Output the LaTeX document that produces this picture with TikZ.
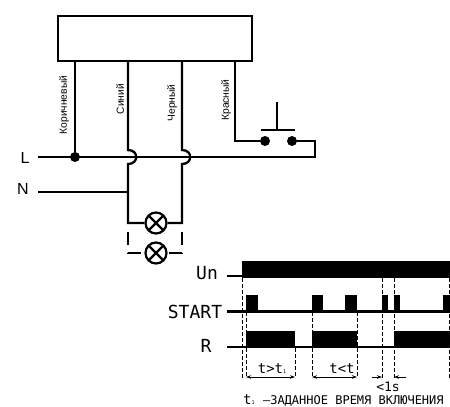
\documentclass[tikz,border=0pt]{standalone}
\usepackage{fontspec}
\setmainfont{Liberation Sans}
\newfontfamily\monofont{DejaVu Sans Mono}
\usetikzlibrary{arrows.meta}
\tikzset{
x=1pt,
y=-1pt,
wire/.style={line width=2.3pt},
dashed wire/.style={line width=2.3pt, dash pattern=on 13pt off 8pt},
guide/.style={line width=0.9pt, dash pattern=on 4pt off 2pt},
span/.style={line width=0.8pt, {Stealth[length=5pt,width=3.5pt]}-{Stealth[length=5pt,width=3.5pt]}},
tip/.style={line width=0.8pt, -{Stealth[length=5pt,width=3.5pt]}},
relay/.style={draw, line width=2.4pt, minimum width=194pt, minimum height=45pt, inner sep=0pt},
contact/.style={circle, fill, minimum size=10pt, inner sep=0pt},
lamp/.style={circle, draw, line width=2.2pt, fill=white, minimum size=21pt, inner sep=0pt,
  path picture={
    \draw[line width=2.2pt] (path picture bounding box.north west) -- (path picture bounding box.south east);
    \draw[line width=2.2pt] (path picture bounding box.north east) -- (path picture bounding box.south west);
  }},
colour/.style={rotate=90, font=\fontsize{10.3}{10}\selectfont, inner sep=0pt},
mains/.style={font=\fontsize{16}{16}\selectfont, inner sep=0pt},
signal/.style={font=\monofont\fontsize{18}{18}\selectfont, inner sep=0pt},
timing/.style={font=\monofont\fontsize{14}{14}\selectfont, inner sep=0pt},
}

\begin{document}
\begin{tikzpicture}
    \useasboundingbox (0,0) rectangle (450,407);

    \node[relay] (relay) at (155,38.5) {};

    \node[colour] (brown) at (64,105) {Коричневый};
    \node[colour] (blue) at (120,99) {Синий};
    \node[colour] (black) at (172,103) {Черный};
    \node[colour] (red) at (226,100) {Красный};

    \node[mains] (L) at (25,158) {L};
    \node[mains] (N) at (23,189) {N};

    \coordinate (Lstart) at (38,157);
    \coordinate (Nstart) at (38,192);
    \coordinate (Lend) at (315,157);
    \coordinate (Ncross) at (128,192);

    \node[contact] (Ldot) at (75,157) {};
    \node[contact] (sw1) at (265,141) {};
    \node[contact] (sw2) at (292,141) {};
    \coordinate (bar1) at (261,130);
    \coordinate (bar2) at (295,130);
    \coordinate (barmid) at (277,130);
    \coordinate (stem) at (277,102);
    \coordinate (Lcorner) at (315,140);

    \coordinate (w1top) at (75,61);
    \coordinate (w2top) at (128,61);
    \coordinate (w3top) at (182,61);
    \coordinate (w4top) at (235,61);
    \coordinate (w2a) at (128,150);
    \coordinate (w2b) at (128,164);
    \coordinate (w3a) at (182,150);
    \coordinate (w3b) at (182,164);
    \coordinate (w2dash) at (128,232);
    \coordinate (w3dash) at (182,232);

    \node[lamp] (lampa) at (156,223) {};
    \node[lamp] (lampb) at (156,253) {};

    \draw[wire] (w1top) -- (Ldot);
    \draw[wire] (w2top) -- (w2a) .. controls +(11,0) and +(11,0) .. (w2b) |- (lampa);
    \draw[wire] (w3top) -- (w3a) .. controls +(11,0) and +(11,0) .. (w3b) |- (lampa);
    \draw[wire] (w4top) |- (sw1);
    \draw[wire] (sw2) -| (Lcorner) -- (Lend) -- (Lstart);
    \draw[wire] (Nstart) -- (Ncross);
    \draw[wire] (bar1) -- (bar2);
    \draw[wire] (barmid) -- (stem);
    \draw[dashed wire] (w2dash) |- (lampb);
    \draw[dashed wire] (w3dash) |- (lampb);

    \node[signal] (Un) at (207,273) {Un};
    \node[signal] (START) at (195,312) {START};
    \node[signal] (R) at (206,346) {R};

    \coordinate (un0) at (227,276);
    \coordinate (un1) at (242,276);
    \coordinate (start0) at (227,311.5);
    \coordinate (start1) at (450,311.5);
    \coordinate (r0) at (227,347);
    \coordinate (r1) at (450,347);
    \draw[wire] (un0) -- (un1);
    \draw[wire] (start0) -- (start1);
    \draw[wire] (r0) -- (r1);

    \fill (242,261) rectangle (450,278);
    \foreach \xa/\xb in {246/258,312/323,345/357,382/388,394/400,443/450}
        \fill (\xa,295) rectangle (\xb,312);
    \foreach \xa/\xb in {246/295,312/357,394/450}
        \fill (\xa,331) rectangle (\xb,348);

    \foreach \xa/\ya in {242/278,246/312,295/348,312/312,357/312,382/278,394/278,449/278}
        \draw[guide] (\xa,\ya) -- (\xa,378);

    \coordinate (a1) at (246,377);
    \coordinate (a2) at (295,377);
    \coordinate (a3) at (312,377);
    \coordinate (a4) at (357,377);
    \coordinate (a5) at (372,377);
    \coordinate (a6) at (382,377);
    \coordinate (a7) at (406,377);
    \coordinate (a8) at (394,377);
    \draw[span] (a1) -- (a2);
    \draw[span] (a3) -- (a4);
    \draw[tip] (a5) -- (a6);
    \draw[tip] (a7) -- (a8);

    \node[timing] (tgt) at (272,369) {t>t\raisebox{0pt}{\fontsize{5}{5}\selectfont 1}};
    \node[timing] (tlt) at (342,369) {t<t};
    \node[timing, font=\monofont\fontsize{13}{13}\selectfont] (oneS) at (388,386.5) {<1s};
    \node[timing, anchor=west] (note) at (243,401) {t\raisebox{0pt}{\fontsize{5}{5}\selectfont 1} {\fontsize{12}{12}\selectfont –ЗАДАННОЕ ВРЕМЯ ВКЛЮЧЕНИЯ}};
\end{tikzpicture}
\end{document}
